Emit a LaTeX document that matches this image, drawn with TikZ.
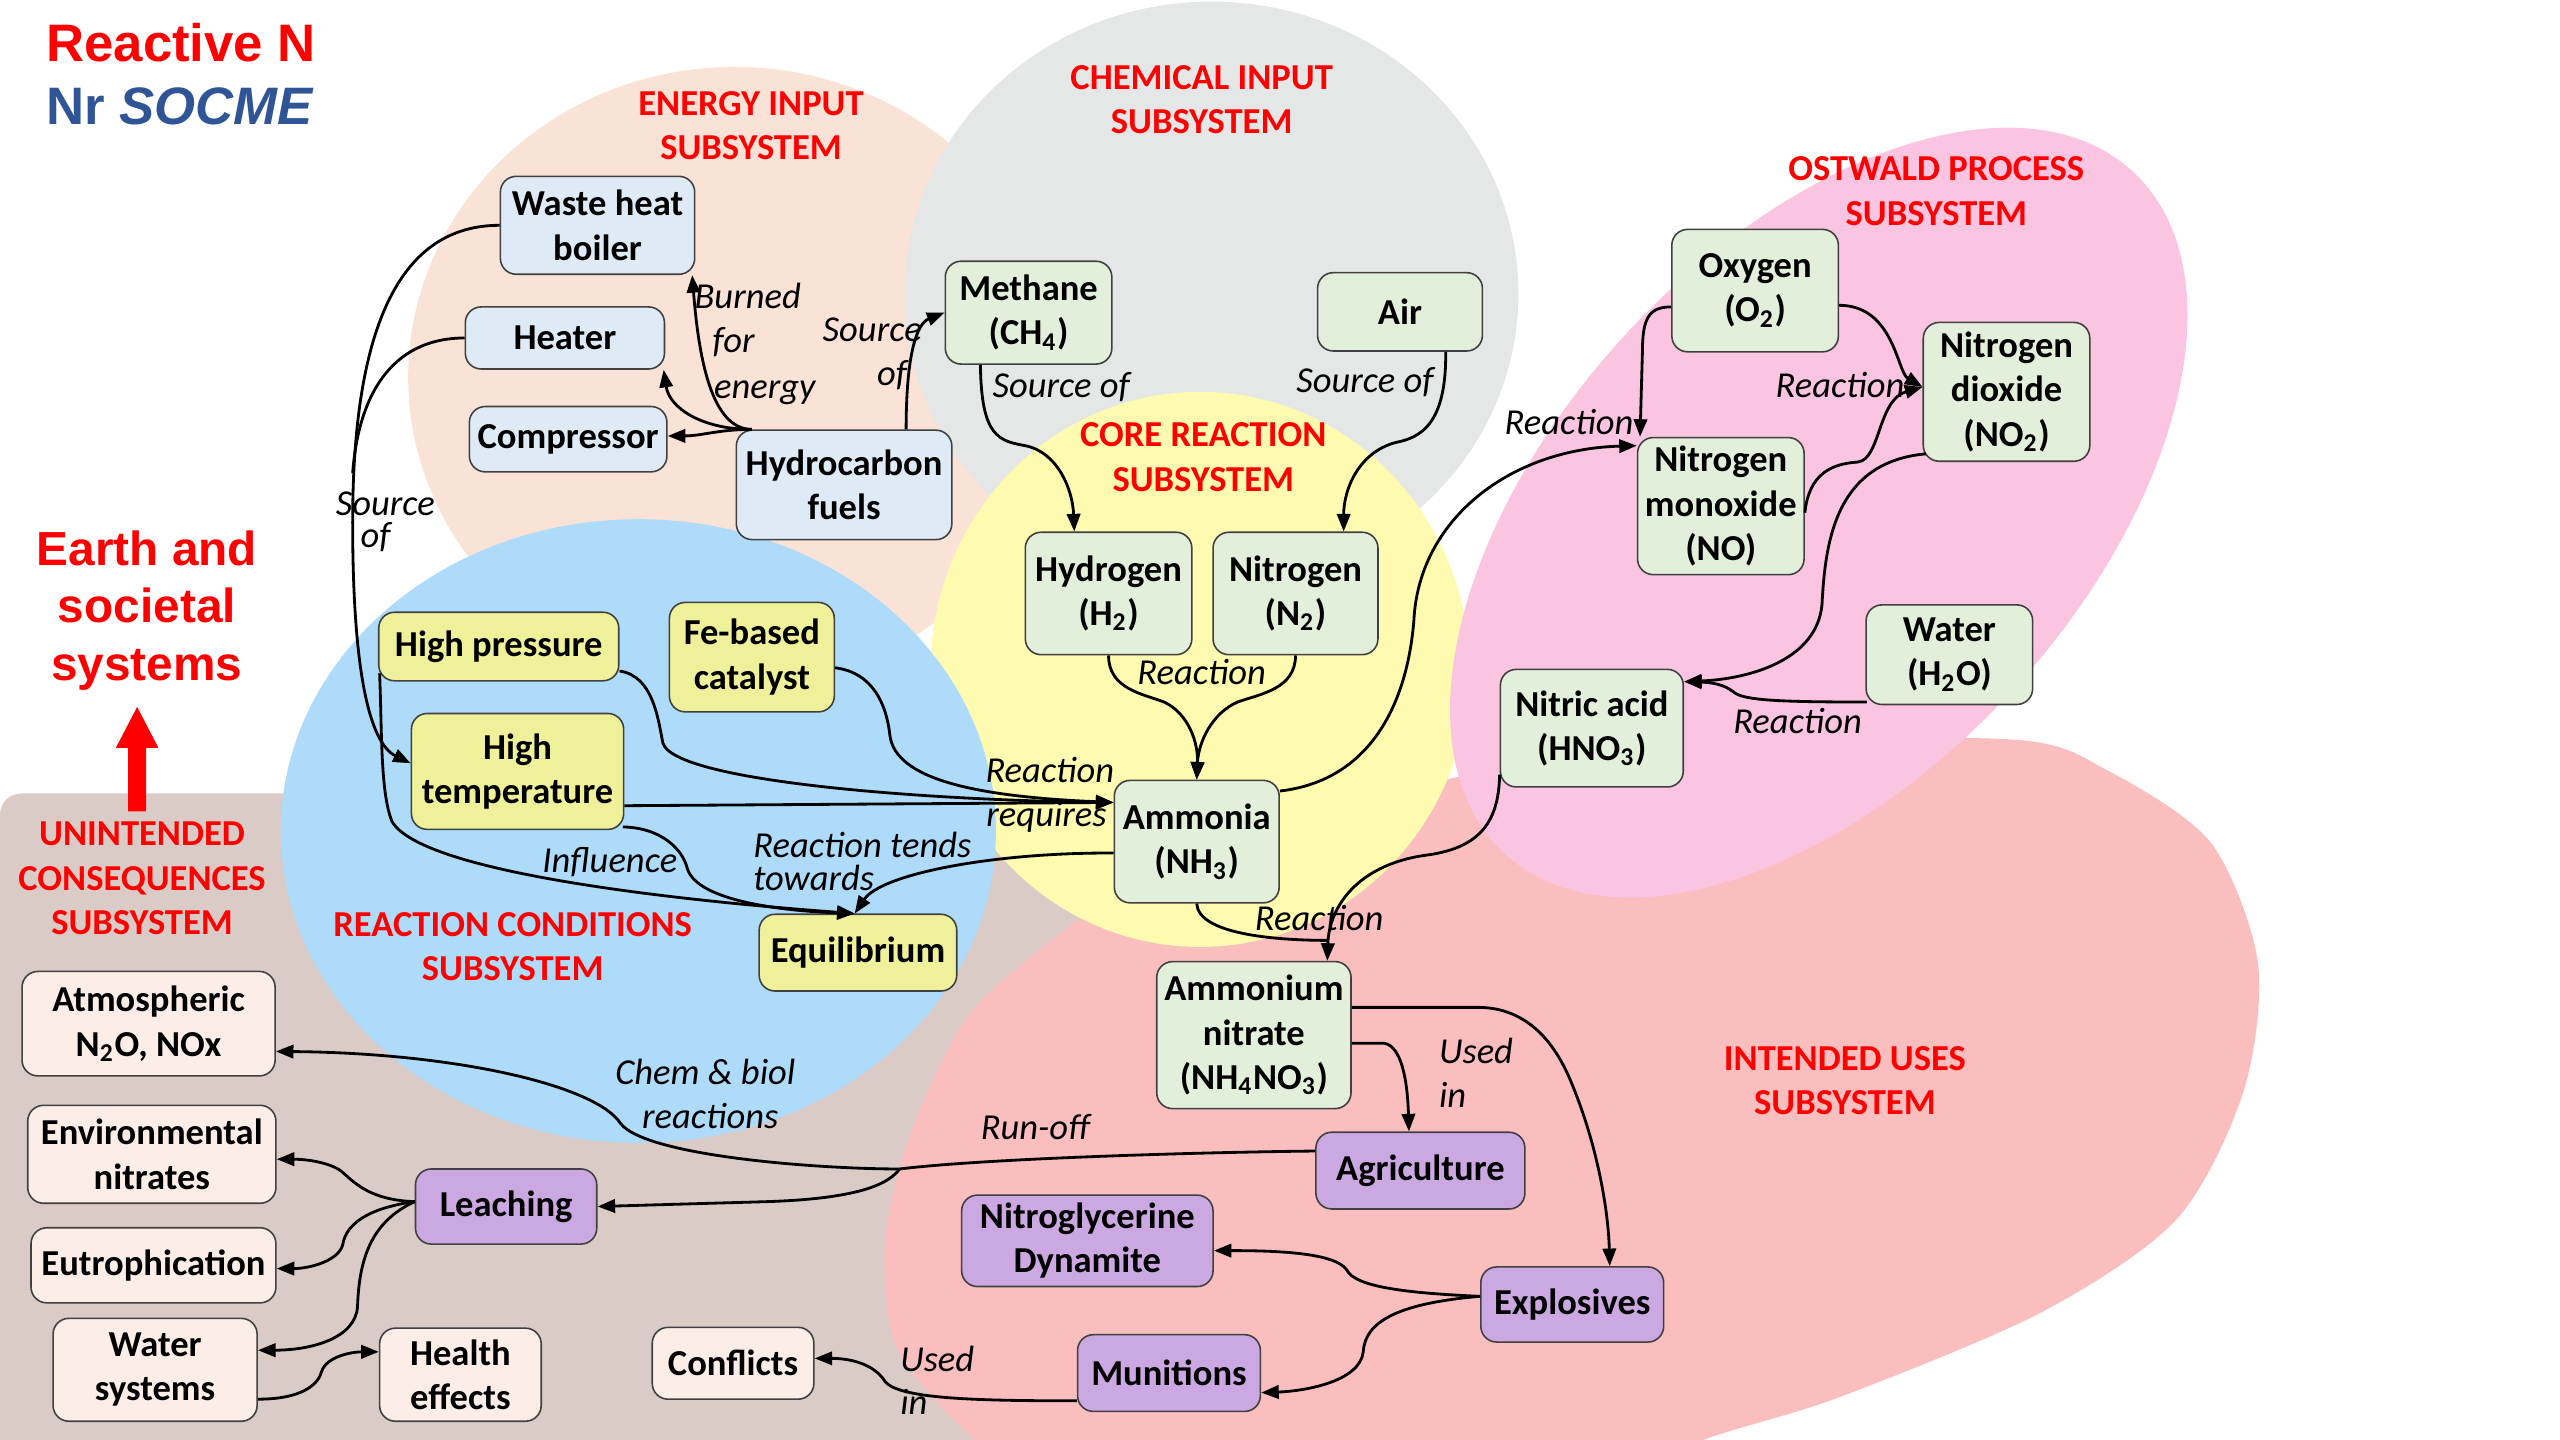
\documentclass[tikz,border=0pt]{standalone}
\usepackage{fontspec}
\setmainfont{Carlito}
\newfontfamily\arialfont{Liberation Sans}
\usetikzlibrary{arrows.meta,calc}
\newcommand{\chemsub}[1]{\textsubscript{#1}}
\newcommand{\diagfont}{\fontsize{10.4}{12.6}\selectfont}

\definecolor{bgBrown}{RGB}{218,203,199}
\definecolor{bgPeach}{RGB}{250,227,214}
\definecolor{bgGray}{RGB}{228,231,229}
\definecolor{bgBlue}{RGB}{175,219,250}
\definecolor{bgYellow}{RGB}{254,250,176}
\definecolor{bgPink}{RGB}{251,196,225}
\definecolor{bgSalmon}{RGB}{250,190,190}
\definecolor{fEnergy}{RGB}{222,235,247}
\definecolor{fChem}{RGB}{226,239,218}
\definecolor{fCond}{RGB}{239,241,154}
\definecolor{fUse}{RGB}{204,168,226}
\definecolor{fUnint}{RGB}{252,238,231}
\definecolor{subRed}{RGB}{255,0,0}
\definecolor{titleBlue}{RGB}{47,85,151}

\tikzset{
  basebox/.style={draw=black!75, line width=0.45pt, rounded corners=4.5pt, align=center,
    inner sep=1pt, font=\diagfont\bfseries},
  wh/.style 2 args={minimum width=#1*0.16327mm, minimum height=#2*0.16327mm},
  enbox/.style={basebox, fill=fEnergy},
  chbox/.style={basebox, fill=fChem},
  cobox/.style={basebox, fill=fCond},
  usbox/.style={basebox, fill=fUse},
  unbox/.style={basebox, fill=fUnint},
  cn/.style={draw=black, line width=0.8pt},
  arr/.style={-{Triangle[length=5pt,width=3.8pt]}},
  lbl/.style={font=\diagfont\itshape, inner sep=0pt, text height=1.6ex, text depth=0.4ex},
  toplbl/.style={lbl, text depth=0pt},
  sublbl/.style={font=\diagfont\bfseries, text=subRed, align=center, inner sep=0pt},
}

\begin{document}
\begin{tikzpicture}[x=0.16327mm, y=-0.16327mm]
\useasboundingbox (0,0) rectangle (1568,882);

% ---------- subsystem regions ----------
\begin{scope}
\clip (0,0) rectangle (1568,882);
\fill[bgBrown, rounded corners=6pt] (0,486) rectangle (760,900);
\fill[bgPeach] (450,231) ellipse [x radius=200, y radius=190];
\fill[bgGray] (742,180) ellipse [x radius=188, y radius=179];
\fill[bgSalmon] plot[smooth cycle] coordinates {
  (542,762) (556,699) (591,625) (644,576) (700,540) (800,500) (903,474)
  (1050,455) (1233,453) (1291,472) (1354,516) (1383,590) (1374,669)
  (1333,747) (1250,804) (1126,856) (1043,882) (950,920) (800,950)
  (650,920) (591,876) (549,825)};
\fill[bgYellow] (735,410) ellipse [x radius=165, y radius=170];
\fill[bgBlue] (391,509) ellipse [x radius=219, y radius=191];
\fill[bgPink, rotate around={47.4:(1114,314)}] (1114,314) ellipse [x radius=284, y radius=161];
\end{scope}

% ---------- titles ----------
\node[anchor=base west, inner sep=0pt, text=red,
  font=\arialfont\bfseries\fontsize{15}{18}\selectfont] (title1) at (28,37.5) {Reactive N};
\node[anchor=base west, inner sep=0pt, text=titleBlue,
  font=\arialfont\bfseries\fontsize{15}{18}\selectfont] (title2) at (28,76.5) {Nr \textit{SOCME}};
\node[align=center, inner sep=0pt, text=red,
  font=\arialfont\bfseries\fontsize{13.6}{16.3}\selectfont] (earth) at (90,374) {Earth and\\societal\\systems};
\fill[red] (78.5,497) -- (89.5,497) -- (89.5,458) -- (97,458) -- (84,433) -- (71,458) -- (78.5,458) -- cycle;

% ---------- subsystem names ----------
\node[sublbl] (sEnergy) at (460,77) {ENERGY INPUT\\SUBSYSTEM};
\node[sublbl] (sChem) at (736,61) {CHEMICAL INPUT\\SUBSYSTEM};
\node[sublbl] (sCore) at (737,280) {CORE REACTION\\SUBSYSTEM};
\node[sublbl] (sOst) at (1186,117) {OSTWALD PROCESS\\SUBSYSTEM};
\node[sublbl] (sCond) at (314,580) {REACTION CONDITIONS\\SUBSYSTEM};
\node[sublbl] (sUnint) at (87,538) {UNINTENDED\\CONSEQUENCES\\SUBSYSTEM};
\node[sublbl] (sUses) at (1130,662) {INTENDED USES\\SUBSYSTEM};

% ---------- energy input ----------
\node[enbox, wh={119}{60}] (boiler) at (366,138) {Waste heat\\boiler};
\node[enbox, wh={122}{38}] (heater) at (346,207) {Heater};
\node[enbox, wh={121}{40}] (compressor) at (348,269) {Compressor};
\node[enbox, wh={132}{67}] (hydro) at (517,297) {Hydrocarbon\\fuels};

% ---------- chemical input / core ----------
\node[chbox, wh={102}{63}] (methane) at (630,191.5) {Methane\\(CH\chemsub{4})};
\node[chbox, wh={101}{48}] (air) at (857.5,191) {Air};
\node[chbox, wh={102}{75}] (hydrogen) at (679,363.5) {Hydrogen\\(H\chemsub{2})};
\node[chbox, wh={101}{75}] (nitrogen) at (793.5,363.5) {Nitrogen\\(N\chemsub{2})};
\node[chbox, wh={101}{75}] (ammonia) at (733,515.5) {Ammonia\\(NH\chemsub{3})};

% ---------- Ostwald process ----------
\node[chbox, wh={102}{75}] (oxygen) at (1075,178) {Oxygen\\(O\chemsub{2})};
\node[chbox, wh={102}{85}] (no2) at (1229,240) {Nitrogen\\dioxide\\(NO\chemsub{2})};
\node[chbox, wh={102}{84}] (no) at (1054,310) {Nitrogen\\monoxide\\(NO)};
\node[chbox, wh={102}{61}] (water) at (1194,401) {Water\\(H\chemsub{2}O)};
\node[chbox, wh={112}{72}] (hno3) at (975,446) {Nitric acid\\(HNO\chemsub{3})};

% ---------- reaction conditions ----------
\node[cobox, wh={147}{42}] (hp) at (305.5,396) {High pressure};
\node[cobox, wh={101}{67}] (fe) at (460.5,402.5) {Fe-based\\catalyst};
\node[cobox, wh={130}{71}] (ht) at (317,472.5) {High\\temperature};
\node[cobox, wh={121}{47}] (eq) at (525.5,583.5) {Equilibrium};

% ---------- intended uses ----------
\node[chbox, wh={119}{90}] (an) at (768,634) {Ammonium\\nitrate\\(NH\chemsub{4}NO\chemsub{3})};
\node[usbox, wh={128}{47}] (agri) at (870,717) {Agriculture};
\node[usbox, wh={154}{56}] (nitro) at (666,760) {Nitroglycerine\\Dynamite};
\node[usbox, wh={112}{46}] (expl) at (963,799) {Explosives};
\node[usbox, wh={112}{47}] (mun) at (716,841) {Munitions};

% ---------- unintended consequences ----------
\node[unbox, wh={155}{64}] (atm) at (91,627) {Atmospheric\\N\chemsub{2}O, NOx};
\node[unbox, wh={152}{60}] (env) at (93,707) {Environmental\\nitrates};
\node[unbox, wh={150}{46}] (eut) at (94,775) {Eutrophication};
\node[unbox, wh={125}{63}] (ws) at (95,839) {Water\\systems};
\node[unbox, wh={99}{57}] (health) at (282,842) {Health\\effects};
\node[unbox, wh={99}{44}] (conflicts) at (449,835) {Conflicts};
\node[usbox, wh={111}{46}] (leaching) at (310,739) {Leaching};

% ---------- connectors: energy input ----------
\coordinate (hc) at ($(hydro.north west)+(10,0)$);
\draw[cn,arr] (hc) .. controls (436,263) and (428,220) .. ($(boiler.south east)+(-2,0)$);
\draw[cn,arr] (hc) .. controls (430,263) and (410,250) .. ($(heater.south east)+(-1,0)$);
\draw[cn,arr] (hc) .. controls (440,263) and (430,267) .. ($(compressor.east)+(0,-2)$);
\draw[cn,arr] ($(hydro.north)+(38,0)$) .. controls (555,215) and (562,198) .. (methane.west);
\draw[cn,arr] (boiler.west) .. controls (250,138) and (216,190) .. (216,320)
  .. controls (216,410) and (226,455) .. ($(ht.west)+(0,-5)$);
\draw[cn] (heater.west) .. controls (245,207) and (220,235) .. (216,290);

% ---------- connectors: chemical input / core ----------
\draw[cn,arr] ($(methane.south west)+(22,0)$) .. controls (601,268) and (612,270) .. (628,273)
  .. controls (648,277) and (657,300) .. ($(hydrogen.north)+(-21,0)$);
\draw[cn,arr] ($(air.south east)+(-23,0)$) .. controls (886,260) and (870,268) .. (855,271)
  .. controls (832,277) and (823,300) .. ($(nitrogen.north)+(29.5,0)$);
\draw[cn,arr] (hydrogen.south) .. controls (679,422) and (700,425) .. (713,430)
  .. controls (728,437) and (734,455) .. (ammonia.north);
\draw[cn,arr] (nitrogen.south) .. controls (793.5,422) and (772,425) .. (758,430)
  .. controls (742,437) and (734,455) .. (ammonia.north);

% ---------- connectors: Ostwald process ----------
\draw[cn,arr] ($(ammonia.east)+(0,-31)$) .. controls (840,478) and (862,430) .. (866,380)
  .. controls (869,318) and (925,275) .. ($(no.west)+(0,-37)$);
\draw[cn,arr] ($(oxygen.west)+(0,10)$) .. controls (1010,188) and (1006,195) .. (1006,215)
  -- ($(no.north west)+(2,0)$);
\draw[cn,arr] ($(oxygen.east)+(0,9)$) .. controls (1160,187) and (1162,228) .. ($(no2.west)+(0,-3)$);
\draw[cn,arr] ($(no.east)+(0,4)$) .. controls (1108,290) and (1122,284) .. (1138,283)
  .. controls (1152,281) and (1150,245) .. ($(no2.west)+(0,-3)$);
\draw[cn,arr] ($(no2.south west)+(2,-5)$) .. controls (1125,283) and (1118,330) .. (1116,370)
  .. controls (1113,405) and (1070,416) .. ($(hno3.north east)+(0,8)$);
\draw[cn,arr] ($(water.south west)+(1,-2)$) .. controls (1090,430) and (1068,429) .. (1062,424)
  .. controls (1056,419) and (1048,418) .. ($(hno3.north east)+(0,8)$);
\draw[cn,arr] ($(hno3.south west)+(0,-8)$) .. controls (918,505) and (905,520) .. (872,524)
  .. controls (832,530) and (814,555) .. ($(an.north east)+(-15,0)$);
\draw[cn] (ammonia.south) .. controls (734,572) and (780,576) .. (814,576);

% ---------- connectors: reaction conditions ----------
\draw[cn,arr] ($(ammonia.west)+(0,7)$) .. controls (610,522) and (540,535) .. ($(eq.north)+(-2,0)$);
\draw[cn,arr] ($(hp.east)+(0,15)$) .. controls (400,414) and (403,440) .. (406,455)
  .. controls (412,478) and (560,490) .. ($(ammonia.west)+(0,-24)$);
\draw[cn,arr] ($(fe.east)+(0,6.5)$) .. controls (535,412) and (543,432) .. (545,450)
  .. controls (548,478) and (600,488) .. ($(ammonia.west)+(0,-24)$);
\draw[cn,arr] ($(ht.east)+(0,21)$) -- ($(ammonia.west)+(0,-24)$);
\draw[cn,arr] ($(hp.south west)+(1,-5)$) .. controls (234,450) and (233,485) .. (240,503)
  .. controls (258,535) and (420,552) .. ($(eq.north)+(-2,0)$);
\draw[cn,arr] ($(ht.south east)+(-1,-2)$) .. controls (405,507) and (418,520) .. (421,532)
  .. controls (427,552) and (480,558) .. ($(eq.north)+(-2,0)$);

% ---------- connectors: intended uses ----------
\draw[cn,arr] ($(an.east)+(0,5)$) -- (848,639) .. controls (858,641) and (862,660) .. ($(agri.north)+(-7,0)$);
\draw[cn,arr] ($(an.east)+(0,-17)$) -- (905,617) .. controls (935,617) and (952,638) .. (962,662)
  .. controls (978,700) and (985,740) .. ($(expl.north)+(23,0)$);
\draw[cn,arr] ($(expl.west)+(0,-5)$) .. controls (860,792) and (830,788) .. (825,778)
  .. controls (818,767) and (780,766) .. ($(nitro.east)+(0,6)$);
\draw[cn,arr] ($(expl.west)+(0,-5)$) .. controls (860,798) and (836,808) .. (835,828)
  .. controls (833,846) and (800,852) .. ($(mun.east)+(0,12)$);
\draw[cn,arr] ($(mun.west)+(0,17)$) .. controls (600,858) and (550,857) .. (542,846)
  .. controls (535,835) and (520,832) .. ($(conflicts.east)+(0,-3)$);

% ---------- connectors: unintended consequences ----------
\coordinate (rb) at (551,716);
\draw[cn] ($(agri.west)+(0,-12)$) .. controls (720,706) and (600,710) .. (rb);
\draw[cn,arr] (rb) .. controls (500,716) and (395,708) .. (380,688)
  .. controls (365,665) and (280,645) .. ($(atm.east)+(0,17)$);
\draw[cn,arr] (rb) .. controls (545,724) and (530,734) .. (470,736) -- (leaching.east);
\draw[cn,arr] ($(leaching.west)+(0,-3)$) .. controls (222,735) and (214,720) .. (207,716)
  .. controls (198,711) and (185,710) .. ($(env.east)+(0,3)$);
\draw[cn,arr] ($(leaching.west)+(0,-3)$) .. controls (225,740) and (212,750) .. (210,762)
  .. controls (208,772) and (190,777) .. ($(eut.east)+(0,2)$);
\draw[cn,arr] ($(leaching.west)+(0,-3)$) .. controls (228,748) and (220,770) .. (219,800)
  .. controls (218,820) and (190,827) .. ($(ws.east)+(0,-12)$);
\draw[cn,arr] ($(ws.east)+(0,18)$) .. controls (185,857) and (195,848) .. (197,840)
  .. controls (200,831) and (215,828) .. ($(health.west)+(0,-14)$);

% ---------- connector labels ----------
\node[lbl, anchor=west] (lBurned1) at (425,183) {Burned};
\node[lbl, anchor=west] (lBurned2) at (436,210) {for};
\node[lbl, anchor=west] (lBurned3) at (437,238) {energy};
\node[lbl, anchor=east] (lSrcA1) at (565,203) {Source};
\node[lbl, anchor=east] (lSrcA2) at (556,230) {of};
\node[lbl] (lSrcB) at (650,237) {Source of};
\node[lbl] (lSrcC) at (836,234) {Source of};
\node[toplbl, anchor=base] (lSrcD1) at (236,316) {Source};
\node[lbl, anchor=base] (lSrcD2) at (230,335.5) {of};
\node[lbl] (lReacHN) at (736,413) {Reaction};
\node[lbl] (lReq1) at (643,473) {Reaction};
\node[lbl] (lReq2) at (641,500) {requires};
\node[lbl] (lInfl) at (373.5,528) {Influence};
\node[toplbl, anchor=base west] (lTend1) at (461,525) {Reaction tends};
\node[lbl, anchor=base west] (lTend2) at (461,545.5) {towards};
\node[lbl] (lReacNO) at (961,260) {Reaction};
\node[lbl] (lReacNO2) at (1127,237) {Reaction};
\node[lbl] (lReacHNO3) at (1101,443) {Reaction};
\node[lbl] (lReacAN) at (808,564) {Reaction};
\node[lbl, anchor=west] (lUsed1) at (881,645) {Used};
\node[lbl, anchor=west] (lUsed2) at (881,672) {in};
\node[lbl] (lRun) at (634,692) {Run-off};
\node[lbl] (lChem1) at (432,658) {Chem \& biol};
\node[lbl] (lChem2) at (435,685) {reactions};
\node[lbl, anchor=west] (lUsedB1) at (551,834) {Used};
\node[lbl, anchor=west] (lUsedB2) at (551,860) {in};
\end{tikzpicture}
\end{document}
